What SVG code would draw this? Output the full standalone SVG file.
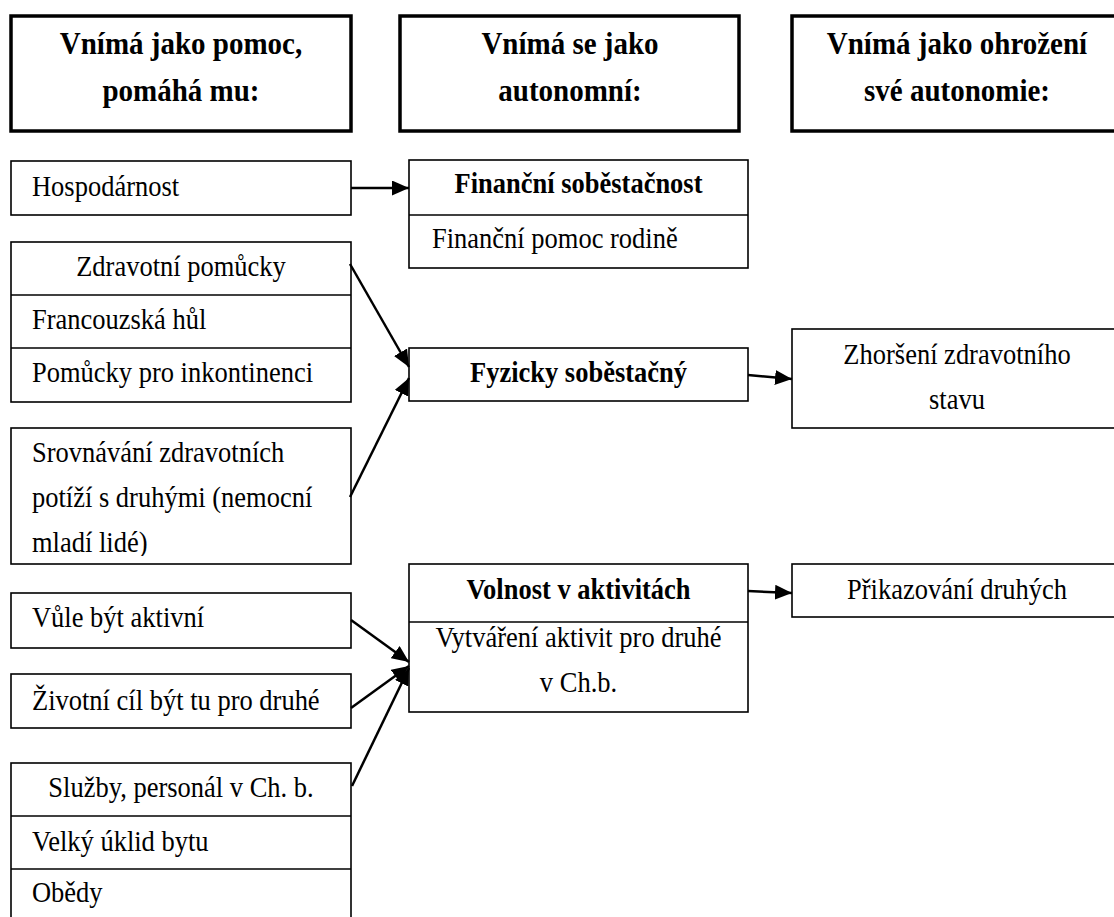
<svg xmlns="http://www.w3.org/2000/svg" width="1114" height="917" viewBox="0 0 1114 917">
<style>
text{font-family:"Liberation Serif","Times New Roman",serif;font-size:26.5px;fill:#000;transform-box:fill-box;transform-origin:center bottom;transform:scaleY(1.1)}
.h{font-size:29px;font-weight:bold;text-anchor:middle}
.b{font-weight:bold;text-anchor:middle}
.c{text-anchor:middle}
.hb{fill:#fff;stroke:#000;stroke-width:3.5}
.bx{fill:#fff;stroke:#000;stroke-width:1.6}
.dv{stroke:#000;stroke-width:1.6}
.ar{stroke:#000;stroke-width:2.5;fill:none;marker-end:url(#ah)}
</style>
<defs>
<marker id="ah" markerUnits="userSpaceOnUse" markerWidth="17" markerHeight="15" refX="17" refY="7.5" orient="auto">
<path d="M0,0 L17,7.5 L0,15 Z" fill="#000"/>
</marker>
<clipPath id="clipS"><rect x="0" y="0" width="1114" height="556"/></clipPath>
</defs>
<rect width="1114" height="917" fill="#fff"/>
<g id="header-pomoc">
<rect class="hb" x="11" y="16" width="340" height="115"/>
<text class="h" x="181" y="55">Vnímá jako pomoc,</text>
<text class="h" x="181" y="102">pomáhá mu:</text>
</g>
<g id="header-autonomni">
<rect class="hb" x="400" y="16" width="339" height="115"/>
<text class="h" x="570" y="55">Vnímá se jako</text>
<text class="h" x="570" y="102">autonomní:</text>
</g>
<g id="header-ohrozeni">
<rect class="hb" x="792" y="16" width="345" height="115"/>
<text class="h" x="957" y="55">Vnímá jako ohrožení</text>
<text class="h" x="957" y="102">své autonomie:</text>
</g>
<g id="hospodarnost">
<rect class="bx" x="11" y="161" width="340" height="54"/>
<text x="32" y="197">Hospodárnost</text>
</g>
<g id="financni">
<rect class="bx" x="409" y="160" width="339" height="108"/>
<line class="dv" x1="409" y1="215" x2="748" y2="215"/>
<text class="b" x="578.5" y="194">Finanční soběstačnost</text>
<text x="432" y="249">Finanční pomoc rodině</text>
</g>
<g id="zdravotni">
<rect class="bx" x="11" y="242" width="340" height="160"/>
<line class="dv" x1="11" y1="295" x2="351" y2="295"/>
<line class="dv" x1="11" y1="348" x2="351" y2="348"/>
<text class="c" x="181" y="277">Zdravotní pomůcky</text>
<text x="32" y="330">Francouzská hůl</text>
<text x="32" y="383">Pomůcky pro inkontinenci</text>
</g>
<g id="fyzicky">
<rect class="bx" x="409" y="348" width="339" height="53"/>
<text class="b" x="578.5" y="383">Fyzicky soběstačný</text>
</g>
<g id="zhorseni">
<rect class="bx" x="792" y="329" width="345" height="99"/>
<text class="c" x="957" y="365">Zhoršení zdravotního</text>
<text class="c" x="957" y="410">stavu</text>
</g>
<g id="srovnavani">
<rect class="bx" x="11" y="428" width="340" height="136"/>
<g clip-path="url(#clipS)">
<text x="32" y="463">Srovnávání zdravotních</text>
<text x="32" y="508">potíží s druhými (nemocní</text>
<text x="32" y="553">mladí lidé)</text>
</g>
</g>
<g id="volnost">
<rect class="bx" x="409" y="564" width="339" height="148"/>
<line class="dv" x1="409" y1="622" x2="748" y2="622"/>
<text class="b" x="578.5" y="600">Volnost v aktivitách</text>
<text class="c" x="578.5" y="648">Vytváření aktivit pro druhé</text>
<text class="c" x="578.5" y="693">v Ch.b.</text>
</g>
<g id="prikazovani">
<rect class="bx" x="792" y="564" width="345" height="53"/>
<text class="c" x="957" y="600">Přikazování druhých</text>
</g>
<g id="vule">
<rect class="bx" x="11" y="593" width="340" height="55"/>
<text x="32" y="628">Vůle být aktivní</text>
</g>
<g id="zivotni">
<rect class="bx" x="11" y="674" width="340" height="54"/>
<text x="32" y="711">Životní cíl být tu pro druhé</text>
</g>
<g id="sluzby">
<rect class="bx" x="11" y="763" width="340" height="170"/>
<line class="dv" x1="11" y1="816" x2="351" y2="816"/>
<line class="dv" x1="11" y1="869" x2="351" y2="869"/>
<text class="c" x="181" y="798">Služby, personál v Ch. b.</text>
<text x="32" y="852">Velký úklid bytu</text>
<text x="32" y="903">Obědy</text>
</g>
<g id="connectors">
<line class="ar" x1="351" y1="188" x2="409" y2="188"/>
<line class="ar" x1="350" y1="264" x2="409" y2="367"/>
<line class="ar" x1="350" y1="497" x2="409" y2="378"/>
<line class="ar" x1="748" y1="375" x2="792" y2="379"/>
<line class="ar" x1="351" y1="620" x2="409" y2="662"/>
<line class="ar" x1="351" y1="708" x2="409" y2="666"/>
<line class="ar" x1="352" y1="786" x2="409" y2="668"/>
<line class="ar" x1="748" y1="591" x2="792" y2="593"/>
</g>
</svg>
